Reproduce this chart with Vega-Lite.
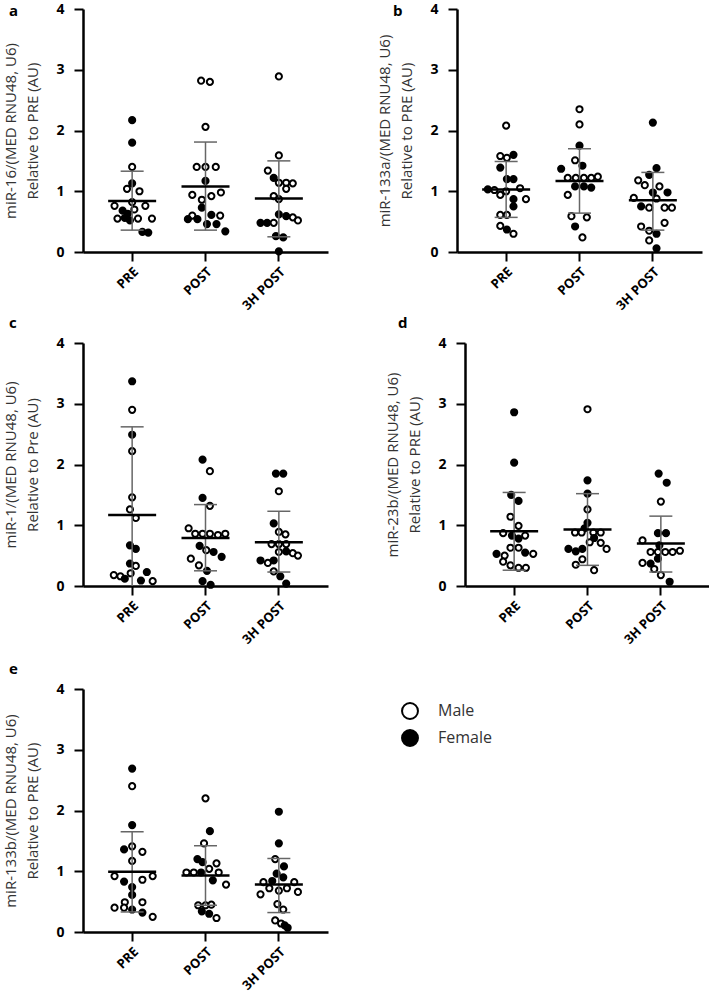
{
"$schema": "https://vega.github.io/schema/vega-lite/v6.json",
"padding": {"left": 3, "top": 2, "right": 0, "bottom": 0},
"config": {
 "view": {"stroke": null},
 "font": "Open Sans",
 "axis": {"grid": false, "domainColor": "black", "domainWidth": 2.5, "tickColor": "black", "tickWidth": 2, "tickSize": 9, "labelFont": "Open Sans", "labelFontWeight": "bold", "labelColor": "black", "titleFont": "Open Sans", "titleFontWeight": "normal", "titleColor": "#333333", "titleFontSize": 15},
 "axisY": {"labelFontSize": 14, "labelPadding": 10, "titlePadding": 15, "titleLineHeight": 22},
 "axisX": {"labelFontSize": 13, "labelAngle": -45, "labelPadding": 4},
 "legend": {"orient": "none", "legendX": 318, "legendY": 693, "symbolType": "circle", "symbolSize": 254, "symbolStrokeColor": "black", "symbolStrokeWidth": 4, "labelFontSize": 16, "labelFont": "Open Sans", "labelColor": "#333333", "labelOffset": 19, "rowPadding": 3},
 "point": {"shape": "circle", "filled": true, "stroke": "black", "strokeWidth": 2, "size": 38, "opacity": 1},
 "tick": {"opacity": 1}
},
"datasets": {
 "pts": [
  {"p":"a","t":"PRE","s":"Female","v":2.17,"j":0},{"p":"a","t":"PRE","s":"Female","v":1.80,"j":0},{"p":"a","t":"PRE","s":"Male","v":1.40,"j":0},{"p":"a","t":"PRE","s":"Female","v":1.13,"j":0},{"p":"a","t":"PRE","s":"Male","v":1.04,"j":-0.7},{"p":"a","t":"PRE","s":"Male","v":1.00,"j":1},{"p":"a","t":"PRE","s":"Male","v":0.82,"j":0},{"p":"a","t":"PRE","s":"Male","v":0.76,"j":-2.4},{"p":"a","t":"PRE","s":"Male","v":0.76,"j":1.8},{"p":"a","t":"PRE","s":"Female","v":0.68,"j":-1.3},{"p":"a","t":"PRE","s":"Female","v":0.63,"j":-0.6},{"p":"a","t":"PRE","s":"Male","v":0.70,"j":0.3},{"p":"a","t":"PRE","s":"Male","v":0.55,"j":-2},{"p":"a","t":"PRE","s":"Female","v":0.56,"j":-1},{"p":"a","t":"PRE","s":"Male","v":0.55,"j":0.8},{"p":"a","t":"PRE","s":"Male","v":0.55,"j":2.7},{"p":"a","t":"PRE","s":"Female","v":0.52,"j":-0.3},{"p":"a","t":"PRE","s":"Female","v":0.33,"j":1.4},{"p":"a","t":"PRE","s":"Female","v":0.32,"j":2.2},
  {"p":"a","t":"POST","s":"Male","v":2.82,"j":-0.6},{"p":"a","t":"POST","s":"Male","v":2.80,"j":0.6},{"p":"a","t":"POST","s":"Male","v":2.06,"j":0},{"p":"a","t":"POST","s":"Male","v":1.40,"j":-1.2},{"p":"a","t":"POST","s":"Male","v":1.40,"j":0},{"p":"a","t":"POST","s":"Male","v":1.40,"j":1.4},{"p":"a","t":"POST","s":"Female","v":1.17,"j":0},{"p":"a","t":"POST","s":"Male","v":0.98,"j":2.1},{"p":"a","t":"POST","s":"Male","v":0.94,"j":-1.8},{"p":"a","t":"POST","s":"Male","v":0.92,"j":0.8},{"p":"a","t":"POST","s":"Male","v":0.86,"j":-0.5},{"p":"a","t":"POST","s":"Female","v":0.73,"j":-0.5},{"p":"a","t":"POST","s":"Male","v":0.60,"j":-1.8},{"p":"a","t":"POST","s":"Male","v":0.60,"j":2},{"p":"a","t":"POST","s":"Female","v":0.61,"j":0.8},{"p":"a","t":"POST","s":"Female","v":0.54,"j":-2.4},{"p":"a","t":"POST","s":"Female","v":0.54,"j":-1.1},{"p":"a","t":"POST","s":"Female","v":0.46,"j":0.2},{"p":"a","t":"POST","s":"Female","v":0.46,"j":1.5},{"p":"a","t":"POST","s":"Female","v":0.34,"j":2.7},
  {"p":"a","t":"3H POST","s":"Male","v":2.89,"j":0},{"p":"a","t":"3H POST","s":"Male","v":1.59,"j":0},{"p":"a","t":"3H POST","s":"Male","v":1.34,"j":-1.5},{"p":"a","t":"3H POST","s":"Female","v":1.22,"j":-0.7},{"p":"a","t":"3H POST","s":"Male","v":1.14,"j":0},{"p":"a","t":"3H POST","s":"Male","v":1.14,"j":1},{"p":"a","t":"3H POST","s":"Male","v":1.13,"j":1.9},{"p":"a","t":"3H POST","s":"Male","v":1.04,"j":1},{"p":"a","t":"3H POST","s":"Male","v":0.92,"j":-0.7},{"p":"a","t":"3H POST","s":"Male","v":0.87,"j":0},{"p":"a","t":"3H POST","s":"Female","v":0.62,"j":0},{"p":"a","t":"3H POST","s":"Female","v":0.59,"j":1},{"p":"a","t":"3H POST","s":"Male","v":0.57,"j":1.9},{"p":"a","t":"3H POST","s":"Male","v":0.52,"j":2.6},{"p":"a","t":"3H POST","s":"Female","v":0.48,"j":-2.5},{"p":"a","t":"3H POST","s":"Female","v":0.48,"j":-1.6},{"p":"a","t":"3H POST","s":"Male","v":0.48,"j":-0.7},{"p":"a","t":"3H POST","s":"Female","v":0.26,"j":-0.4},{"p":"a","t":"3H POST","s":"Female","v":0.24,"j":0.6},{"p":"a","t":"3H POST","s":"Female","v":0.01,"j":0},
  {"p":"b","t":"PRE","s":"Male","v":2.08,"j":0},{"p":"b","t":"PRE","s":"Male","v":1.58,"j":-0.8},{"p":"b","t":"PRE","s":"Male","v":1.55,"j":0.1},{"p":"b","t":"PRE","s":"Female","v":1.60,"j":1},{"p":"b","t":"PRE","s":"Female","v":1.39,"j":-0.8},{"p":"b","t":"PRE","s":"Female","v":1.20,"j":0.1},{"p":"b","t":"PRE","s":"Female","v":1.20,"j":1},{"p":"b","t":"PRE","s":"Female","v":1.03,"j":-2.5},{"p":"b","t":"PRE","s":"Male","v":1.02,"j":-1.6},{"p":"b","t":"PRE","s":"Male","v":0.94,"j":-0.8},{"p":"b","t":"PRE","s":"Male","v":1.00,"j":0},{"p":"b","t":"PRE","s":"Male","v":1.05,"j":1.9},{"p":"b","t":"PRE","s":"Male","v":0.87,"j":2.7},{"p":"b","t":"PRE","s":"Female","v":0.87,"j":1},{"p":"b","t":"PRE","s":"Female","v":0.75,"j":1},{"p":"b","t":"PRE","s":"Male","v":0.61,"j":-0.8},{"p":"b","t":"PRE","s":"Male","v":0.61,"j":0.1},{"p":"b","t":"PRE","s":"Male","v":0.43,"j":-0.8},{"p":"b","t":"PRE","s":"Female","v":0.37,"j":0.1},{"p":"b","t":"PRE","s":"Male","v":0.30,"j":1},
  {"p":"b","t":"POST","s":"Male","v":2.35,"j":0},{"p":"b","t":"POST","s":"Male","v":2.10,"j":0},{"p":"b","t":"POST","s":"Female","v":1.75,"j":0},{"p":"b","t":"POST","s":"Male","v":1.51,"j":-0.6},{"p":"b","t":"POST","s":"Female","v":1.42,"j":0.4},{"p":"b","t":"POST","s":"Female","v":1.37,"j":-2.5},{"p":"b","t":"POST","s":"Male","v":1.22,"j":-1.6},{"p":"b","t":"POST","s":"Male","v":1.22,"j":-0.5},{"p":"b","t":"POST","s":"Male","v":1.22,"j":0.6},{"p":"b","t":"POST","s":"Male","v":1.22,"j":1.6},{"p":"b","t":"POST","s":"Male","v":1.24,"j":2.5},{"p":"b","t":"POST","s":"Female","v":1.08,"j":-0.6},{"p":"b","t":"POST","s":"Female","v":1.08,"j":0.6},{"p":"b","t":"POST","s":"Female","v":1.06,"j":1.6},{"p":"b","t":"POST","s":"Male","v":0.94,"j":-1.6},{"p":"b","t":"POST","s":"Male","v":0.59,"j":-1.1},{"p":"b","t":"POST","s":"Male","v":0.57,"j":1},{"p":"b","t":"POST","s":"Female","v":0.42,"j":-0.6},{"p":"b","t":"POST","s":"Male","v":0.24,"j":0.4},
  {"p":"b","t":"3H POST","s":"Female","v":2.13,"j":0},{"p":"b","t":"3H POST","s":"Female","v":1.38,"j":0.5},{"p":"b","t":"3H POST","s":"Female","v":1.27,"j":-0.5},{"p":"b","t":"3H POST","s":"Male","v":1.18,"j":-2},{"p":"b","t":"3H POST","s":"Male","v":1.10,"j":-1.1},{"p":"b","t":"3H POST","s":"Male","v":1.08,"j":0.9},{"p":"b","t":"3H POST","s":"Female","v":0.98,"j":0},{"p":"b","t":"3H POST","s":"Female","v":0.98,"j":2},{"p":"b","t":"3H POST","s":"Male","v":0.89,"j":-2.6},{"p":"b","t":"3H POST","s":"Male","v":0.88,"j":0.5},{"p":"b","t":"3H POST","s":"Female","v":0.75,"j":-1.6},{"p":"b","t":"3H POST","s":"Male","v":0.73,"j":-0.5},{"p":"b","t":"3H POST","s":"Male","v":0.73,"j":1.6},{"p":"b","t":"3H POST","s":"Male","v":0.73,"j":2.6},{"p":"b","t":"3H POST","s":"Male","v":0.48,"j":1.6},{"p":"b","t":"3H POST","s":"Male","v":0.42,"j":-1.6},{"p":"b","t":"3H POST","s":"Male","v":0.35,"j":-0.5},{"p":"b","t":"3H POST","s":"Female","v":0.30,"j":0.5},{"p":"b","t":"3H POST","s":"Male","v":0.19,"j":-0.5},{"p":"b","t":"3H POST","s":"Female","v":0.06,"j":0.5},
  {"p":"c","t":"PRE","s":"Female","v":3.37,"j":0},{"p":"c","t":"PRE","s":"Male","v":2.90,"j":0},{"p":"c","t":"PRE","s":"Female","v":2.49,"j":0},{"p":"c","t":"PRE","s":"Male","v":2.22,"j":0},{"p":"c","t":"PRE","s":"Male","v":1.46,"j":0},{"p":"c","t":"PRE","s":"Male","v":1.26,"j":-0.3},{"p":"c","t":"PRE","s":"Male","v":1.12,"j":0.5},{"p":"c","t":"PRE","s":"Female","v":0.67,"j":-0.3},{"p":"c","t":"PRE","s":"Female","v":0.61,"j":0.5},{"p":"c","t":"PRE","s":"Female","v":0.37,"j":-0.3},{"p":"c","t":"PRE","s":"Male","v":0.33,"j":0.5},{"p":"c","t":"PRE","s":"Male","v":0.18,"j":-2.5},{"p":"c","t":"PRE","s":"Male","v":0.16,"j":-1.6},{"p":"c","t":"PRE","s":"Female","v":0.12,"j":-1},{"p":"c","t":"PRE","s":"Male","v":0.21,"j":-0.2},{"p":"c","t":"PRE","s":"Female","v":0.23,"j":2},{"p":"c","t":"PRE","s":"Female","v":0.09,"j":1.2},{"p":"c","t":"PRE","s":"Male","v":0.08,"j":2.8},
  {"p":"c","t":"POST","s":"Female","v":2.08,"j":-0.4},{"p":"c","t":"POST","s":"Male","v":1.89,"j":0.6},{"p":"c","t":"POST","s":"Female","v":1.45,"j":-0.4},{"p":"c","t":"POST","s":"Male","v":1.32,"j":0.6},{"p":"c","t":"POST","s":"Male","v":0.95,"j":-2.3},{"p":"c","t":"POST","s":"Male","v":0.86,"j":-1.4},{"p":"c","t":"POST","s":"Male","v":0.86,"j":-0.4},{"p":"c","t":"POST","s":"Male","v":0.86,"j":0.6},{"p":"c","t":"POST","s":"Male","v":0.84,"j":1.7},{"p":"c","t":"POST","s":"Male","v":0.86,"j":2.7},{"p":"c","t":"POST","s":"Female","v":0.66,"j":-0.8},{"p":"c","t":"POST","s":"Male","v":0.59,"j":0.1},{"p":"c","t":"POST","s":"Female","v":0.56,"j":1.1},{"p":"c","t":"POST","s":"Female","v":0.48,"j":2.2},{"p":"c","t":"POST","s":"Male","v":0.45,"j":-2},{"p":"c","t":"POST","s":"Male","v":0.34,"j":-0.9},{"p":"c","t":"POST","s":"Female","v":0.25,"j":0.2},{"p":"c","t":"POST","s":"Female","v":0.08,"j":-0.4},{"p":"c","t":"POST","s":"Female","v":0.02,"j":0.7},
  {"p":"c","t":"3H POST","s":"Female","v":1.85,"j":-0.4},{"p":"c","t":"3H POST","s":"Female","v":1.85,"j":0.6},{"p":"c","t":"3H POST","s":"Male","v":1.56,"j":0},{"p":"c","t":"3H POST","s":"Female","v":1.03,"j":-0.7},{"p":"c","t":"3H POST","s":"Male","v":0.89,"j":0},{"p":"c","t":"3H POST","s":"Male","v":0.85,"j":0.9},{"p":"c","t":"3H POST","s":"Male","v":0.69,"j":-1},{"p":"c","t":"3H POST","s":"Male","v":0.69,"j":0},{"p":"c","t":"3H POST","s":"Male","v":0.69,"j":1},{"p":"c","t":"3H POST","s":"Male","v":0.56,"j":0},{"p":"c","t":"3H POST","s":"Male","v":0.54,"j":1.9},{"p":"c","t":"3H POST","s":"Male","v":0.50,"j":2.6},{"p":"c","t":"3H POST","s":"Female","v":0.57,"j":1},{"p":"c","t":"3H POST","s":"Female","v":0.42,"j":-2.5},{"p":"c","t":"3H POST","s":"Female","v":0.42,"j":-0.7},{"p":"c","t":"3H POST","s":"Male","v":0.38,"j":-1.5},{"p":"c","t":"3H POST","s":"Male","v":0.24,"j":-0.7},{"p":"c","t":"3H POST","s":"Female","v":0.16,"j":0.2},{"p":"c","t":"3H POST","s":"Female","v":0.04,"j":1},
  {"p":"d","t":"PRE","s":"Female","v":2.86,"j":0},{"p":"d","t":"PRE","s":"Female","v":2.03,"j":0},{"p":"d","t":"PRE","s":"Female","v":1.50,"j":-0.4},{"p":"d","t":"PRE","s":"Female","v":1.40,"j":0.6},{"p":"d","t":"PRE","s":"Male","v":1.14,"j":-0.5},{"p":"d","t":"PRE","s":"Male","v":0.99,"j":0.6},{"p":"d","t":"PRE","s":"Male","v":0.87,"j":-1.5},{"p":"d","t":"PRE","s":"Female","v":0.83,"j":-0.3},{"p":"d","t":"PRE","s":"Male","v":0.83,"j":1.5},{"p":"d","t":"PRE","s":"Female","v":0.78,"j":0.6},{"p":"d","t":"PRE","s":"Male","v":0.63,"j":-0.5},{"p":"d","t":"PRE","s":"Male","v":0.63,"j":0.6},{"p":"d","t":"PRE","s":"Female","v":0.53,"j":-2.4},{"p":"d","t":"PRE","s":"Male","v":0.50,"j":-1.3},{"p":"d","t":"PRE","s":"Female","v":0.55,"j":1.5},{"p":"d","t":"PRE","s":"Male","v":0.53,"j":2.6},{"p":"d","t":"PRE","s":"Male","v":0.40,"j":-1.5},{"p":"d","t":"PRE","s":"Male","v":0.34,"j":-0.5},{"p":"d","t":"PRE","s":"Male","v":0.30,"j":0.6},{"p":"d","t":"PRE","s":"Male","v":0.30,"j":1.6},
  {"p":"d","t":"POST","s":"Male","v":2.91,"j":0},{"p":"d","t":"POST","s":"Female","v":1.74,"j":0},{"p":"d","t":"POST","s":"Female","v":1.52,"j":0},{"p":"d","t":"POST","s":"Male","v":1.26,"j":0},{"p":"d","t":"POST","s":"Female","v":1.04,"j":0},{"p":"d","t":"POST","s":"Female","v":0.95,"j":-0.4},{"p":"d","t":"POST","s":"Male","v":0.88,"j":-1.7},{"p":"d","t":"POST","s":"Male","v":0.88,"j":-0.8},{"p":"d","t":"POST","s":"Male","v":0.88,"j":0.8},{"p":"d","t":"POST","s":"Male","v":0.88,"j":1.8},{"p":"d","t":"POST","s":"Female","v":0.79,"j":0.9},{"p":"d","t":"POST","s":"Male","v":0.72,"j":0.3},{"p":"d","t":"POST","s":"Male","v":0.71,"j":1.8},{"p":"d","t":"POST","s":"Male","v":0.61,"j":2.6},{"p":"d","t":"POST","s":"Female","v":0.61,"j":-2.6},{"p":"d","t":"POST","s":"Female","v":0.57,"j":-1.6},{"p":"d","t":"POST","s":"Female","v":0.61,"j":-0.7},{"p":"d","t":"POST","s":"Male","v":0.44,"j":-0.7},{"p":"d","t":"POST","s":"Male","v":0.35,"j":-1.6},{"p":"d","t":"POST","s":"Male","v":0.26,"j":0.9},
  {"p":"d","t":"3H POST","s":"Female","v":1.85,"j":-0.3},{"p":"d","t":"3H POST","s":"Female","v":1.70,"j":0.8},{"p":"d","t":"3H POST","s":"Male","v":1.39,"j":0},{"p":"d","t":"3H POST","s":"Female","v":0.87,"j":-0.4},{"p":"d","t":"3H POST","s":"Female","v":0.87,"j":0.7},{"p":"d","t":"3H POST","s":"Male","v":0.75,"j":-2.5},{"p":"d","t":"3H POST","s":"Female","v":0.67,"j":-0.2},{"p":"d","t":"3H POST","s":"Male","v":0.56,"j":-1.4},{"p":"d","t":"3H POST","s":"Male","v":0.56,"j":-0.4},{"p":"d","t":"3H POST","s":"Male","v":0.56,"j":0.6},{"p":"d","t":"3H POST","s":"Male","v":0.56,"j":1.6},{"p":"d","t":"3H POST","s":"Male","v":0.58,"j":2.6},{"p":"d","t":"3H POST","s":"Male","v":0.38,"j":-2.5},{"p":"d","t":"3H POST","s":"Female","v":0.45,"j":-0.4},{"p":"d","t":"3H POST","s":"Female","v":0.37,"j":-1.4},{"p":"d","t":"3H POST","s":"Male","v":0.28,"j":-0.9},{"p":"d","t":"3H POST","s":"Male","v":0.18,"j":0},{"p":"d","t":"3H POST","s":"Female","v":0.07,"j":1.2},
  {"p":"e","t":"PRE","s":"Female","v":2.69,"j":0},{"p":"e","t":"PRE","s":"Male","v":2.40,"j":0},{"p":"e","t":"PRE","s":"Female","v":1.76,"j":0},{"p":"e","t":"PRE","s":"Male","v":1.41,"j":0},{"p":"e","t":"PRE","s":"Female","v":1.36,"j":-1.1},{"p":"e","t":"PRE","s":"Male","v":1.32,"j":1.4},{"p":"e","t":"PRE","s":"Male","v":1.17,"j":0},{"p":"e","t":"PRE","s":"Male","v":0.92,"j":-2.4},{"p":"e","t":"PRE","s":"Male","v":0.86,"j":1.4},{"p":"e","t":"PRE","s":"Male","v":0.92,"j":2.8},{"p":"e","t":"PRE","s":"Female","v":0.83,"j":-1.1},{"p":"e","t":"PRE","s":"Female","v":0.74,"j":0},{"p":"e","t":"PRE","s":"Female","v":0.61,"j":0},{"p":"e","t":"PRE","s":"Male","v":0.49,"j":-1},{"p":"e","t":"PRE","s":"Male","v":0.49,"j":1.4},{"p":"e","t":"PRE","s":"Male","v":0.40,"j":-2.4},{"p":"e","t":"PRE","s":"Male","v":0.40,"j":-1.1},{"p":"e","t":"PRE","s":"Female","v":0.37,"j":0},{"p":"e","t":"PRE","s":"Female","v":0.32,"j":1.4},{"p":"e","t":"PRE","s":"Male","v":0.25,"j":2.8},
  {"p":"e","t":"POST","s":"Male","v":2.20,"j":0},{"p":"e","t":"POST","s":"Female","v":1.66,"j":0.6},{"p":"e","t":"POST","s":"Male","v":1.46,"j":-0.2},{"p":"e","t":"POST","s":"Female","v":1.20,"j":-1.1},{"p":"e","t":"POST","s":"Female","v":1.15,"j":-0.4},{"p":"e","t":"POST","s":"Male","v":1.13,"j":1.5},{"p":"e","t":"POST","s":"Male","v":1.04,"j":0.5},{"p":"e","t":"POST","s":"Male","v":0.98,"j":-2.6},{"p":"e","t":"POST","s":"Male","v":0.98,"j":-1.6},{"p":"e","t":"POST","s":"Female","v":0.98,"j":-0.6},{"p":"e","t":"POST","s":"Male","v":0.98,"j":1.8},{"p":"e","t":"POST","s":"Female","v":0.85,"j":1},{"p":"e","t":"POST","s":"Male","v":0.78,"j":2.8},{"p":"e","t":"POST","s":"Male","v":0.44,"j":-1},{"p":"e","t":"POST","s":"Male","v":0.44,"j":0},{"p":"e","t":"POST","s":"Male","v":0.45,"j":0.8},{"p":"e","t":"POST","s":"Female","v":0.34,"j":-0.5},{"p":"e","t":"POST","s":"Female","v":0.30,"j":0.5},{"p":"e","t":"POST","s":"Male","v":0.23,"j":1.5},
  {"p":"e","t":"3H POST","s":"Female","v":1.98,"j":0},{"p":"e","t":"3H POST","s":"Female","v":1.46,"j":0},{"p":"e","t":"3H POST","s":"Male","v":1.20,"j":-0.5},{"p":"e","t":"3H POST","s":"Female","v":1.08,"j":0.7},{"p":"e","t":"3H POST","s":"Female","v":0.96,"j":-0.3},{"p":"e","t":"3H POST","s":"Female","v":0.90,"j":0.6},{"p":"e","t":"3H POST","s":"Male","v":0.82,"j":-2.1},{"p":"e","t":"3H POST","s":"Female","v":0.84,"j":-0.9},{"p":"e","t":"3H POST","s":"Male","v":0.82,"j":2.1},{"p":"e","t":"3H POST","s":"Male","v":0.72,"j":-1.3},{"p":"e","t":"3H POST","s":"Male","v":0.68,"j":0},{"p":"e","t":"3H POST","s":"Male","v":0.72,"j":1.1},{"p":"e","t":"3H POST","s":"Male","v":0.66,"j":2.6},{"p":"e","t":"3H POST","s":"Male","v":0.62,"j":-2.5},{"p":"e","t":"3H POST","s":"Male","v":0.46,"j":-0.2},{"p":"e","t":"3H POST","s":"Male","v":0.37,"j":0.6},{"p":"e","t":"3H POST","s":"Male","v":0.19,"j":-0.5},{"p":"e","t":"3H POST","s":"Male","v":0.14,"j":0.3},{"p":"e","t":"3H POST","s":"Female","v":0.11,"j":0.8},{"p":"e","t":"3H POST","s":"Female","v":0.07,"j":1.2}
 ],
 "stats": [
  {"p":"a","t":"PRE","mean":0.84,"lo":0.36,"hi":1.33},{"p":"a","t":"POST","mean":1.08,"lo":0.36,"hi":1.81},{"p":"a","t":"3H POST","mean":0.88,"lo":0.25,"hi":1.50},
  {"p":"b","t":"PRE","mean":1.03,"lo":0.57,"hi":1.49},{"p":"b","t":"POST","mean":1.17,"lo":0.64,"hi":1.70},{"p":"b","t":"3H POST","mean":0.85,"lo":0.36,"hi":1.31},
  {"p":"c","t":"PRE","mean":1.17,"lo":-0.28,"hi":2.62},{"p":"c","t":"POST","mean":0.79,"lo":0.25,"hi":1.34},{"p":"c","t":"3H POST","mean":0.72,"lo":0.23,"hi":1.23},
  {"p":"d","t":"PRE","mean":0.90,"lo":0.26,"hi":1.54},{"p":"d","t":"POST","mean":0.93,"lo":0.34,"hi":1.52},{"p":"d","t":"3H POST","mean":0.70,"lo":0.23,"hi":1.15},
  {"p":"e","t":"PRE","mean":0.99,"lo":0.33,"hi":1.65},{"p":"e","t":"POST","mean":0.93,"lo":0.44,"hi":1.42},{"p":"e","t":"3H POST","mean":0.78,"lo":0.32,"hi":1.21}
 ]
},
"vconcat": [
 {"vconcat": [
  {"hconcat": [
   {"width": 245, "height": 243,
    "title": {"text": "a", "anchor": "start", "frame": "bounds", "offset": -17, "dx": 5, "fontSize": 15, "fontWeight": "bold", "font": "Open Sans", "color": "black"},
    "encoding": {"x": {"field": "t", "type": "nominal", "sort": ["PRE","POST","3H POST"], "title": null, "scale": {"type": "band", "paddingInner": 0, "paddingOuter": 0.17}}},
    "layer": [
     {"data": {"name": "pts"}, "transform": [{"filter": "datum.p == 'a'"}], "mark": "point",
      "encoding": {"xOffset": {"field": "j", "type": "quantitative", "scale": {"domain": [-5, 5]}},
       "y": {"field": "v", "type": "quantitative", "title": ["miR-16/(MED RNU48, U6)", "Relative to PRE (AU)"], "scale": {"domain": [0, 4], "nice": false}, "axis": {"values": [0,1,2,3,4], "format": "d"}},
       "fill": {"field": "s", "type": "nominal", "title": null, "scale": {"domain": ["Male","Female"], "range": ["white","black"]}}}},
     {"data": {"name": "stats"}, "transform": [{"filter": "datum.p == 'a'"}], "mark": {"type": "rule", "color": "#666666", "strokeWidth": 1.5, "clip": true}, "encoding": {"y": {"field": "lo", "type": "quantitative", "title": ["miR-16/(MED RNU48, U6)", "Relative to PRE (AU)"]}, "y2": {"field": "hi"}}},
     {"data": {"name": "stats"}, "transform": [{"filter": "datum.p == 'a'"}], "mark": {"type": "tick", "color": "#666666", "size": 23, "thickness": 1.5, "clip": true}, "encoding": {"y": {"field": "hi", "type": "quantitative", "title": ["miR-16/(MED RNU48, U6)", "Relative to PRE (AU)"]}}},
     {"data": {"name": "stats"}, "transform": [{"filter": "datum.p == 'a'"}], "mark": {"type": "tick", "color": "#666666", "size": 23, "thickness": 1.5, "clip": true}, "encoding": {"y": {"field": "lo", "type": "quantitative", "title": ["miR-16/(MED RNU48, U6)", "Relative to PRE (AU)"]}}},
     {"data": {"name": "stats"}, "transform": [{"filter": "datum.p == 'a'"}], "mark": {"type": "tick", "color": "black", "size": 48, "thickness": 2.5}, "encoding": {"y": {"field": "mean", "type": "quantitative", "title": ["miR-16/(MED RNU48, U6)", "Relative to PRE (AU)"]}}}
    ]},
   {"width": 245, "height": 243,
    "title": {"text": "b", "anchor": "start", "frame": "bounds", "offset": -17, "dx": 15, "fontSize": 15, "fontWeight": "bold", "font": "Open Sans", "color": "black"},
    "encoding": {"x": {"field": "t", "type": "nominal", "sort": ["PRE","POST","3H POST"], "title": null, "scale": {"type": "band", "paddingInner": 0, "paddingOuter": 0.17}}},
    "layer": [
     {"data": {"name": "pts"}, "transform": [{"filter": "datum.p == 'b'"}], "mark": "point",
      "encoding": {"xOffset": {"field": "j", "type": "quantitative", "scale": {"domain": [-5, 5]}},
       "y": {"field": "v", "type": "quantitative", "title": ["miR-133a/(MED RNU48, U6)", "Relative to PRE (AU)"], "scale": {"domain": [0, 4], "nice": false}, "axis": {"values": [0,1,2,3,4], "format": "d"}},
       "fill": {"field": "s", "type": "nominal", "title": null, "scale": {"domain": ["Male","Female"], "range": ["white","black"]}}}},
     {"data": {"name": "stats"}, "transform": [{"filter": "datum.p == 'b'"}], "mark": {"type": "rule", "color": "#666666", "strokeWidth": 1.5, "clip": true}, "encoding": {"y": {"field": "lo", "type": "quantitative", "title": ["miR-133a/(MED RNU48, U6)", "Relative to PRE (AU)"]}, "y2": {"field": "hi"}}},
     {"data": {"name": "stats"}, "transform": [{"filter": "datum.p == 'b'"}], "mark": {"type": "tick", "color": "#666666", "size": 23, "thickness": 1.5, "clip": true}, "encoding": {"y": {"field": "hi", "type": "quantitative", "title": ["miR-133a/(MED RNU48, U6)", "Relative to PRE (AU)"]}}},
     {"data": {"name": "stats"}, "transform": [{"filter": "datum.p == 'b'"}], "mark": {"type": "tick", "color": "#666666", "size": 23, "thickness": 1.5, "clip": true}, "encoding": {"y": {"field": "lo", "type": "quantitative", "title": ["miR-133a/(MED RNU48, U6)", "Relative to PRE (AU)"]}}},
     {"data": {"name": "stats"}, "transform": [{"filter": "datum.p == 'b'"}], "mark": {"type": "tick", "color": "black", "size": 48, "thickness": 2.5}, "encoding": {"y": {"field": "mean", "type": "quantitative", "title": ["miR-133a/(MED RNU48, U6)", "Relative to PRE (AU)"]}}}
    ]}
  ], "spacing": 49},
  {"hconcat": [
   {"width": 245, "height": 243,
    "title": {"text": "c", "anchor": "start", "frame": "bounds", "offset": 5, "dx": 5, "fontSize": 15, "fontWeight": "bold", "font": "Open Sans", "color": "black"},
    "encoding": {"x": {"field": "t", "type": "nominal", "sort": ["PRE","POST","3H POST"], "title": null, "scale": {"type": "band", "paddingInner": 0, "paddingOuter": 0.17}}},
    "layer": [
     {"data": {"name": "pts"}, "transform": [{"filter": "datum.p == 'c'"}], "mark": "point",
      "encoding": {"xOffset": {"field": "j", "type": "quantitative", "scale": {"domain": [-5, 5]}},
       "y": {"field": "v", "type": "quantitative", "title": ["miR-1/(MED RNU48, U6)", "Relative to Pre (AU)"], "scale": {"domain": [0, 4], "nice": false}, "axis": {"values": [0,1,2,3,4], "format": "d"}},
       "fill": {"field": "s", "type": "nominal", "title": null, "scale": {"domain": ["Male","Female"], "range": ["white","black"]}}}},
     {"data": {"name": "stats"}, "transform": [{"filter": "datum.p == 'c'"}], "mark": {"type": "rule", "color": "#666666", "strokeWidth": 1.5, "clip": true}, "encoding": {"y": {"field": "lo", "type": "quantitative", "title": ["miR-1/(MED RNU48, U6)", "Relative to Pre (AU)"]}, "y2": {"field": "hi"}}},
     {"data": {"name": "stats"}, "transform": [{"filter": "datum.p == 'c'"}], "mark": {"type": "tick", "color": "#666666", "size": 23, "thickness": 1.5, "clip": true}, "encoding": {"y": {"field": "hi", "type": "quantitative", "title": ["miR-1/(MED RNU48, U6)", "Relative to Pre (AU)"]}}},
     {"data": {"name": "stats"}, "transform": [{"filter": "datum.p == 'c'"}], "mark": {"type": "tick", "color": "#666666", "size": 23, "thickness": 1.5, "clip": true}, "encoding": {"y": {"field": "lo", "type": "quantitative", "title": ["miR-1/(MED RNU48, U6)", "Relative to Pre (AU)"]}}},
     {"data": {"name": "stats"}, "transform": [{"filter": "datum.p == 'c'"}], "mark": {"type": "tick", "color": "black", "size": 48, "thickness": 2.5}, "encoding": {"y": {"field": "mean", "type": "quantitative", "title": ["miR-1/(MED RNU48, U6)", "Relative to Pre (AU)"]}}}
    ]},
   {"width": 245, "height": 243,
    "title": {"text": "d", "anchor": "start", "frame": "bounds", "offset": 5, "dx": 12, "fontSize": 15, "fontWeight": "bold", "font": "Open Sans", "color": "black"},
    "encoding": {"x": {"field": "t", "type": "nominal", "sort": ["PRE","POST","3H POST"], "title": null, "scale": {"type": "band", "paddingInner": 0, "paddingOuter": 0.17}}},
    "layer": [
     {"data": {"name": "pts"}, "transform": [{"filter": "datum.p == 'd'"}], "mark": "point",
      "encoding": {"xOffset": {"field": "j", "type": "quantitative", "scale": {"domain": [-5, 5]}},
       "y": {"field": "v", "type": "quantitative", "title": ["miR-23b/(MED RNU48, U6)", "Relative to PRE (AU)"], "scale": {"domain": [0, 4], "nice": false}, "axis": {"values": [0,1,2,3,4], "format": "d"}},
       "fill": {"field": "s", "type": "nominal", "title": null, "scale": {"domain": ["Male","Female"], "range": ["white","black"]}}}},
     {"data": {"name": "stats"}, "transform": [{"filter": "datum.p == 'd'"}], "mark": {"type": "rule", "color": "#666666", "strokeWidth": 1.5, "clip": true}, "encoding": {"y": {"field": "lo", "type": "quantitative", "title": ["miR-23b/(MED RNU48, U6)", "Relative to PRE (AU)"]}, "y2": {"field": "hi"}}},
     {"data": {"name": "stats"}, "transform": [{"filter": "datum.p == 'd'"}], "mark": {"type": "tick", "color": "#666666", "size": 23, "thickness": 1.5, "clip": true}, "encoding": {"y": {"field": "hi", "type": "quantitative", "title": ["miR-23b/(MED RNU48, U6)", "Relative to PRE (AU)"]}}},
     {"data": {"name": "stats"}, "transform": [{"filter": "datum.p == 'd'"}], "mark": {"type": "tick", "color": "#666666", "size": 23, "thickness": 1.5, "clip": true}, "encoding": {"y": {"field": "lo", "type": "quantitative", "title": ["miR-23b/(MED RNU48, U6)", "Relative to PRE (AU)"]}}},
     {"data": {"name": "stats"}, "transform": [{"filter": "datum.p == 'd'"}], "mark": {"type": "tick", "color": "black", "size": 48, "thickness": 2.5}, "encoding": {"y": {"field": "mean", "type": "quantitative", "title": ["miR-23b/(MED RNU48, U6)", "Relative to PRE (AU)"]}}}
    ]}
  ], "spacing": 57}
 ], "spacing": 3},
 {"width": 245, "height": 243,
  "title": {"text": "e", "anchor": "start", "frame": "bounds", "offset": 5, "dx": 5, "fontSize": 15, "fontWeight": "bold", "font": "Open Sans", "color": "black"},
  "encoding": {"x": {"field": "t", "type": "nominal", "sort": ["PRE","POST","3H POST"], "title": null, "scale": {"type": "band", "paddingInner": 0, "paddingOuter": 0.17}}},
  "layer": [
   {"data": {"name": "pts"}, "transform": [{"filter": "datum.p == 'e'"}], "mark": "point",
    "encoding": {"xOffset": {"field": "j", "type": "quantitative", "scale": {"domain": [-5, 5]}},
     "y": {"field": "v", "type": "quantitative", "title": ["miR-133b/(MED RNU48, U6)", "Relative to PRE (AU)"], "scale": {"domain": [0, 4], "nice": false}, "axis": {"values": [0,1,2,3,4], "format": "d"}},
     "fill": {"field": "s", "type": "nominal", "title": null, "scale": {"domain": ["Male","Female"], "range": ["white","black"]}}}},
   {"data": {"name": "stats"}, "transform": [{"filter": "datum.p == 'e'"}], "mark": {"type": "rule", "color": "#666666", "strokeWidth": 1.5, "clip": true}, "encoding": {"y": {"field": "lo", "type": "quantitative", "title": ["miR-133b/(MED RNU48, U6)", "Relative to PRE (AU)"]}, "y2": {"field": "hi"}}},
   {"data": {"name": "stats"}, "transform": [{"filter": "datum.p == 'e'"}], "mark": {"type": "tick", "color": "#666666", "size": 23, "thickness": 1.5, "clip": true}, "encoding": {"y": {"field": "hi", "type": "quantitative", "title": ["miR-133b/(MED RNU48, U6)", "Relative to PRE (AU)"]}}},
   {"data": {"name": "stats"}, "transform": [{"filter": "datum.p == 'e'"}], "mark": {"type": "tick", "color": "#666666", "size": 23, "thickness": 1.5, "clip": true}, "encoding": {"y": {"field": "lo", "type": "quantitative", "title": ["miR-133b/(MED RNU48, U6)", "Relative to PRE (AU)"]}}},
   {"data": {"name": "stats"}, "transform": [{"filter": "datum.p == 'e'"}], "mark": {"type": "tick", "color": "black", "size": 48, "thickness": 2.5}, "encoding": {"y": {"field": "mean", "type": "quantitative", "title": ["miR-133b/(MED RNU48, U6)", "Relative to PRE (AU)"]}}}
  ]}
],
"spacing": 15
}
